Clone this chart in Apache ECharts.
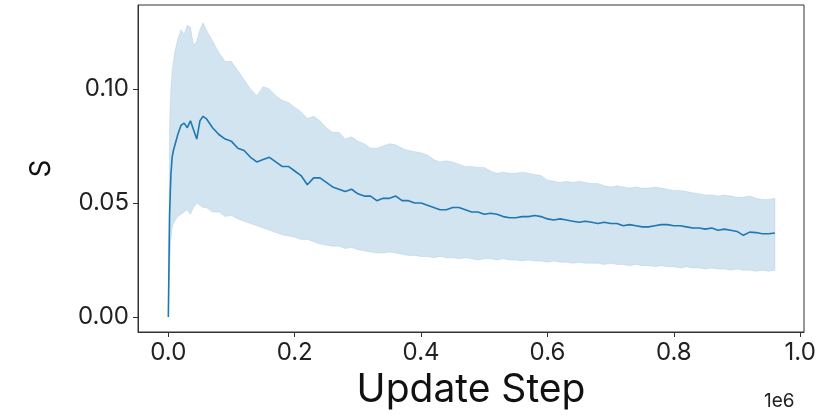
<!DOCTYPE html>
<html>
<head>
<meta charset="utf-8">
<script src="https://cdn.jsdelivr.net/npm/echarts@6/dist/echarts.min.js"></script>
<style>
  html, body { margin: 0; padding: 0; background: #fff; }
  #chart { width: 830px; height: 418px; }
</style>
</head>
<body>
<div id="chart"></div>
<script>
// update steps (x values)
const steps = [
  0, 2000, 4000, 6000, 8000, 10000, 15000, 20000, 25000, 30000,
  35000, 40000, 45000, 50000, 55000, 60000,
  70000, 80000, 90000, 100000, 110000, 120000, 130000, 140000, 150000, 160000,
  170000, 180000, 190000, 200000, 210000, 220000, 230000, 240000, 250000, 260000,
  270000, 280000, 290000, 300000, 310000, 320000, 330000, 340000, 350000, 360000,
  370000, 380000, 390000, 400000, 410000, 420000, 430000, 440000, 450000, 460000,
  470000, 480000, 490000, 500000, 510000, 520000, 530000, 540000, 550000, 560000,
  570000, 580000, 590000, 600000, 610000, 620000, 630000, 640000, 650000, 660000,
  670000, 680000, 690000, 700000, 710000, 720000, 730000, 740000, 750000, 760000,
  770000, 780000, 790000, 800000, 810000, 820000, 830000, 840000, 850000, 860000,
  870000, 880000, 890000, 900000, 910000, 920000, 930000, 940000, 950000, 960000
];

// mean S
const meanS = [
  0, 0.045, 0.062, 0.070, 0.073, 0.075, 0.080, 0.084, 0.085, 0.083,
  0.086, 0.082, 0.078, 0.086, 0.088, 0.087,
  0.083, 0.080, 0.078, 0.077, 0.074, 0.073, 0.070, 0.068, 0.069, 0.070,
  0.068, 0.066, 0.066, 0.064, 0.062, 0.058, 0.061, 0.061, 0.059, 0.057,
  0.056, 0.055, 0.056, 0.054, 0.053, 0.053, 0.051, 0.052, 0.052, 0.053,
  0.051, 0.051, 0.050, 0.050, 0.049, 0.048, 0.047, 0.047, 0.048, 0.048,
  0.047, 0.046, 0.046, 0.045, 0.0455, 0.045, 0.044, 0.0435, 0.0435, 0.044,
  0.044, 0.0445, 0.044, 0.043, 0.0425, 0.043, 0.0425, 0.042, 0.0415, 0.042,
  0.0415, 0.041, 0.0415, 0.041, 0.041, 0.040, 0.0405, 0.040, 0.0395, 0.0395,
  0.040, 0.0405, 0.0405, 0.040, 0.040, 0.0395, 0.039, 0.039, 0.0385, 0.039,
  0.038, 0.0385, 0.038, 0.0375, 0.0358, 0.0372, 0.037, 0.0365, 0.0365, 0.0368
];

// upper edge of the shaded band
const upperS = [
  0, 0.085, 0.100, 0.108, 0.112, 0.116, 0.122, 0.126, 0.124, 0.128,
  0.127, 0.119, 0.121, 0.126, 0.129, 0.126,
  0.121, 0.116, 0.112, 0.112, 0.108, 0.104, 0.100, 0.097, 0.101, 0.100,
  0.097, 0.095, 0.094, 0.092, 0.090, 0.087, 0.088, 0.086, 0.083, 0.081,
  0.081, 0.078, 0.079, 0.077, 0.076, 0.074, 0.074, 0.075, 0.076, 0.0755,
  0.074, 0.073, 0.0725, 0.072, 0.071, 0.069, 0.068, 0.0685, 0.068, 0.067,
  0.066, 0.066, 0.0655, 0.0655, 0.064, 0.063, 0.0635, 0.063, 0.063, 0.0635,
  0.063, 0.0625, 0.062, 0.060, 0.0595, 0.059, 0.0595, 0.059, 0.0595, 0.059,
  0.0585, 0.0585, 0.0575, 0.057, 0.0575, 0.057, 0.0565, 0.057, 0.0565, 0.0565,
  0.057, 0.0565, 0.056, 0.0555, 0.0555, 0.055, 0.0545, 0.054, 0.0535, 0.0535,
  0.053, 0.0535, 0.053, 0.0525, 0.0525, 0.053, 0.052, 0.0515, 0.0515, 0.052
];

// lower edge of the shaded band
const lowerS = [
  0, 0.022, 0.034, 0.039, 0.041, 0.042, 0.044, 0.045, 0.046, 0.047,
  0.045, 0.048, 0.050, 0.049, 0.048, 0.048,
  0.046, 0.046, 0.044, 0.0445, 0.043, 0.042, 0.041, 0.040, 0.039, 0.038,
  0.037, 0.036, 0.0355, 0.035, 0.034, 0.034, 0.033, 0.032, 0.0315, 0.031,
  0.031, 0.030, 0.0305, 0.0295, 0.029, 0.0285, 0.028, 0.028, 0.0285, 0.028,
  0.0275, 0.027, 0.027, 0.0265, 0.0265, 0.026, 0.0265, 0.026, 0.026, 0.0255,
  0.026, 0.0255, 0.025, 0.0255, 0.0255, 0.025, 0.0255, 0.025, 0.025, 0.0245,
  0.025, 0.0245, 0.0245, 0.024, 0.0245, 0.024, 0.024, 0.0235, 0.024, 0.0235,
  0.0235, 0.0235, 0.023, 0.0235, 0.023, 0.023, 0.0225, 0.023, 0.0225, 0.0225,
  0.022, 0.0225, 0.022, 0.022, 0.0215, 0.022, 0.0215, 0.0215, 0.021, 0.0215,
  0.021, 0.021, 0.0205, 0.021, 0.0205, 0.0205, 0.02, 0.0205, 0.02, 0.0205
];

const xTicks = [0, 200000, 400000, 600000, 800000, 1000000];
const yTicks = [0, 0.05, 0.10];

const FONT = 'Inter';
const blue = '#1f77b4';

const chart = echarts.init(document.getElementById('chart'));

const pairs = (ys) => steps.map((s, i) => [s, ys[i]]);
const bandData = steps.map((s, i) => [s, lowerS[i], upperS[i]]);

// whole band drawn as one polygon: upper edge forward, lower edge back
function renderBand (params, api) {
  if (params.dataIndex !== 0) return null
  const top = bandData.map(d => api.coord([d[0], d[2]]))
  const bottom = bandData.map(d => api.coord([d[0], d[1]])).reverse()
  return {
    type: 'group',
    children: [
      {
        type: 'polygon',
        shape: { points: top.concat(bottom) },
        style: { fill: 'rgba(31,119,180,0.2)', stroke: 'rgba(31,119,180,0.12)', lineWidth: 1 }
      }
    ]
  }
}

chart.setOption({
  animation: false,
  grid: {
    left: 138, right: 26, top: 5, bottom: 86,
    show: true, borderColor: '#333', borderWidth: 1
  },
  xAxis: {
    type: 'value',
    min: -48000,
    max: 1006000,
    splitLine: { show: false },
    axisLine: { show: true, onZero: false, lineStyle: { color: '#333' } },
    axisTick: { show: true, length: 5, customValues: xTicks, lineStyle: { color: '#333' } },
    axisLabel: {
      customValues: xTicks,
      formatter: (v) => (v / 1e6).toFixed(1),
      fontFamily: FONT, fontSize: 24, color: '#222', margin: 9
    },
    name: 'Update Step',
    nameLocation: 'middle',
    nameGap: 39,
    nameTextStyle: { fontFamily: FONT, fontSize: 39, color: '#111' }
  },
  yAxis: {
    type: 'value',
    min: -0.0066,
    max: 0.1368,
    splitLine: { show: false },
    axisLine: { show: true, onZero: false, lineStyle: { color: '#333' } },
    axisTick: { show: true, length: 5, customValues: yTicks, lineStyle: { color: '#333' } },
    axisLabel: {
      customValues: yTicks,
      formatter: (v) => v.toFixed(2),
      fontFamily: FONT, fontSize: 24, color: '#222', margin: 9
    },
    name: 'S',
    nameLocation: 'middle',
    nameRotate: 90,
    nameGap: 82,
    nameTextStyle: { fontFamily: FONT, fontSize: 28, color: '#111' }
  },
  graphic: [{
    type: 'text',
    left: 764,
    top: 392,
    style: { text: '1e6', font: '19px Inter', fill: '#222' }
  }],
  series: [
    {
      name: 'band',
      type: 'custom',
      data: bandData,
      encode: { x: 0, y: [1, 2] },
      renderItem: renderBand,
      clip: true,
      z: 1
    },
    {
      name: 'mean',
      type: 'line',
      data: pairs(meanS),
      showSymbol: false,
      lineStyle: { width: 1.6, color: blue },
      z: 3
    }
  ]
});
</script>
</body>
</html>
